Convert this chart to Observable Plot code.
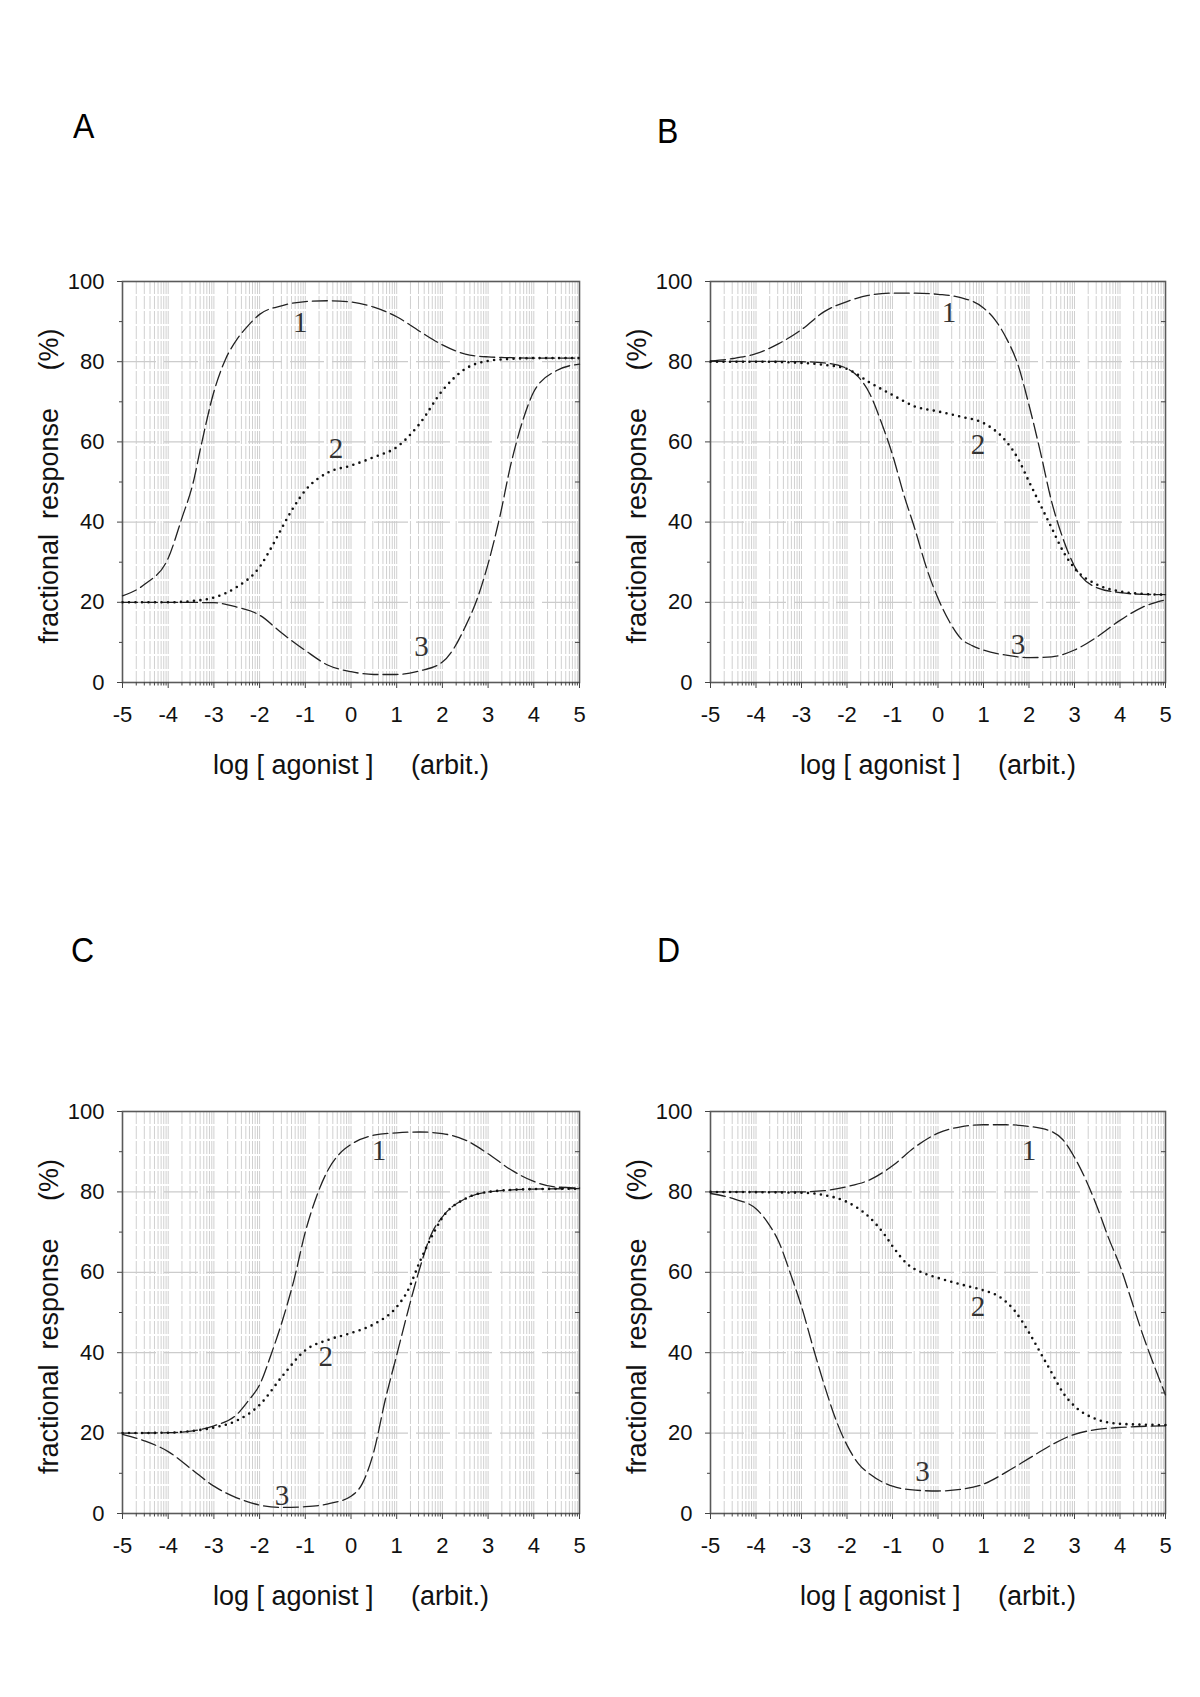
<!DOCTYPE html>
<html><head><meta charset="utf-8">
<script src="https://cdn.jsdelivr.net/npm/d3@7"></script>
<script src="https://cdn.jsdelivr.net/npm/@observablehq/plot@0.6"></script>
<style>
body{margin:0;background:#fff;}
#page{position:relative;width:1200px;height:1697px;background:#fff;overflow:hidden;}
.panel{position:absolute;}
.letter{position:absolute;font-family:"Liberation Sans",Arial,sans-serif;font-size:32px;line-height:34px;color:#000;transform:scaleY(1.12);transform-origin:0 100%;}
</style></head>
<body><div id="page"></div>
<script>
// ---- data: [log agonist, fractional response %] ----
const A1 = [[-5,21.6],[-4.5,24.6],[-4,31],[-3.7,41],[-3.45,50],[-3.3,58],[-3,72.5],[-2.75,80.5],[-2.5,85.5],[-2.25,89],[-2,91.8],[-1.5,94],[-1,95],[-0.5,95.2],[0,94.9],[0.5,93.6],[1,91.2],[1.5,87.6],[2,84.2],[2.5,81.9],[3,81.2],[3.5,81],[4,80.9],[5,80.9]];
const A2 = [[-5,20],[-4,20],[-3.5,20.3],[-3,21.2],[-2.5,23.8],[-2,28.8],[-1.75,33.5],[-1.5,38.8],[-1.25,43.8],[-1,47.9],[-0.5,52.4],[0,54.1],[0.5,56.2],[1,58.7],[1.5,64.5],[2,72.8],[2.5,78.2],[3,80.2],[3.5,80.7],[4,80.9],[5,80.9]];
const A3 = [[-5,20],[-4,20],[-3,19.9],[-2.5,18.8],[-2,16.8],[-1.5,12.2],[-1,8],[-0.5,4.3],[0,2.7],[0.5,2],[1,2],[1.5,2.9],[2,5.1],[2.25,8.5],[2.5,13.9],[2.75,20.5],[3,29.6],[3.25,41],[3.5,54.5],[3.75,65],[4,72.5],[4.5,77.8],[5,79.4]];

const B1 = [[-5,80.2],[-4.5,80.8],[-4,82],[-3.5,84.5],[-3,88],[-2.5,92.5],[-2,95],[-1.5,96.6],[-1,97.1],[-0.5,97.1],[0,96.8],[0.5,96],[1,93.4],[1.25,90.5],[1.5,85.9],[1.75,79.5],[2,69.2],[2.25,57.5],[2.5,45],[2.75,35.8],[3,29],[3.5,23.6],[4,22.4],[4.5,22],[5,21.9]];
const B2 = [[-5,80],[-4,80],[-3,79.7],[-2.5,79.2],[-2,78.2],[-1.5,74.8],[-1,71.7],[-0.5,68.8],[0,67.6],[0.5,66.3],[1,64.7],[1.5,60.1],[1.75,56],[2,50.1],[2.25,44.3],[2.5,38.5],[2.75,32.7],[3,28.5],[3.5,24.4],[4,22.7],[4.5,22.1],[5,21.9]];
const B3 = [[-5,80.1],[-4,80.1],[-3,80],[-2.5,79.7],[-2,78.3],[-1.75,76.2],[-1.5,72],[-1.25,65],[-1,56.8],[-0.75,46.8],[-0.5,38],[-0.25,28.5],[0,21],[0.25,15.2],[0.5,11],[0.75,9.2],[1,8.1],[1.5,6.8],[2,6.2],[2.5,6.4],[3,8.1],[3.5,11.4],[4,15.5],[4.5,18.8],[5,20.6]];

const C1 = [[-5,20],[-4,20.1],[-3.5,20.5],[-3,21.8],[-2.5,24.6],[-2.25,28],[-2,32],[-1.75,39.5],[-1.5,48],[-1.25,58],[-1,70],[-0.75,79],[-0.5,85.5],[-0.25,89.5],[0,91.8],[0.5,94.1],[1,94.7],[1.5,94.9],[2,94.5],[2.5,92.9],[3,89.5],[3.5,85.5],[4,82.6],[4.5,81.2],[5,81]];
const C2 = [[-5,20],[-4,20.1],[-3.5,20.5],[-3,21.4],[-2.5,23.1],[-2,27],[-1.5,34.2],[-1,40.6],[-0.5,43.2],[0,44.9],[0.5,47.1],[1,51.4],[1.25,55.6],[1.5,62.5],[1.75,68.5],[2,73.6],[2.5,78.3],[3,80],[4,80.7],[5,80.8]];
const C3 = [[-5,19.7],[-4.5,18],[-4,15.4],[-3.5,11.1],[-3,6.8],[-2.5,3.9],[-2,2.1],[-1.5,1.5],[-1,1.7],[-0.5,2.4],[0,4.3],[0.25,7.5],[0.5,15.4],[0.75,28.3],[1,39.4],[1.25,50.5],[1.5,60.8],[1.75,69.3],[2,73.8],[2.5,78.3],[3,80],[4,80.7],[5,80.8]];

const D1 = [[-5,80],[-3,80],[-2.5,80.3],[-2,81.3],[-1.5,83],[-1,86.5],[-0.5,91.2],[0,94.6],[0.5,96.2],[1,96.7],[1.5,96.7],[2,96.3],[2.5,95],[2.75,92.9],[3,88.6],[3.25,83],[3.5,76.2],[3.75,68.5],[4,61.6],[4.25,53.1],[4.5,44.5],[4.75,36.8],[5,29.5]];
const D2 = [[-5,80],[-3,79.8],[-2.5,79.2],[-2,77.5],[-1.5,73.6],[-1.17,69.3],[-1,66.5],[-0.67,62],[-0.34,59.9],[0,58.6],[0.5,57],[1,55.5],[1.34,54],[1.68,50.5],[2,45],[2.25,40],[2.5,35],[2.75,30],[3,26.7],[3.5,23.4],[4,22.3],[5,22]];
const D3 = [[-5,79.6],[-4.5,78.3],[-4,75.8],[-3.75,72.5],[-3.5,67.6],[-3.25,59.9],[-3,51.5],[-2.75,41.5],[-2.5,32],[-2.25,23.5],[-2,17],[-1.75,12.4],[-1.5,9.8],[-1,6.8],[-0.5,5.8],[0,5.6],[0.5,6],[1,7.3],[1.5,10.3],[2,13.7],[2.5,17.1],[3,19.7],[3.5,20.9],[4,21.4],[5,21.8]];

// curve number labels: [x, y, text]
const labelsA = [[-1.11,89.8,"1"],[-0.33,58.4,"2"],[1.54,8.9,"3"]];
const labelsB = [[0.24,92.1,"1"],[0.88,59.4,"2"],[1.76,9.4,"3"]];
const labelsC = [[0.61,90.3,"1"],[-0.55,39,"2"],[-1.51,4.3,"3"]];
const labelsD = [[2.0,90.3,"1"],[0.88,51.4,"2"],[-0.34,10.3,"3"]];

// ticks
const majorX = [-5,-4,-3,-2,-1,0,1,2,3,4,5];
const decades = [-5,-4,-3,-2,-1,0,1,2,3,4];
const minorFactors = [2,3,4,5,6,7,8,9];
const majorY = [0,20,40,60,80,100];
const minorY = [10,30,50,70,90];
const gridY = [20,40,60,80];
const panelLetters = ["A","B","C","D"];
const xTitle = "log [ agonist ]\u00a0\u00a0\u00a0\u00a0\u00a0(arbit.)";
const yTitle = "fractional\u00a0\u00a0response\u00a0\u00a0\u00a0\u00a0\u00a0(%)";

const minorX = decades.flatMap(d => minorFactors.map(k => d + Math.log10(k)));
const gridX = minorX.concat(majorX.slice(1, -1));

const FONT = '"Liberation Sans", Arial, sans-serif';
const toRows = arr => arr.map(([x, y]) => ({x, y}));
const hyphen = d => String(d);

function makePanel(series, labels, ml, mr, mt, mb) {
  const [s1, s2, s3] = series.map(toRows);
  const lab = labels.map(([x, y, t]) => ({x, y, t}));
  return Plot.plot({
    width: 600, height: 600,
    marginLeft: ml, marginRight: mr, marginTop: mt, marginBottom: mb,
    style: {fontFamily: FONT, background: "transparent", overflow: "visible", color: "#111"},
    x: {type: "linear", domain: [-5, 5]},
    y: {type: "linear", domain: [0, 100]},
    marks: [
      Plot.ruleX(gridX, {stroke: "#d0d0d0", strokeWidth: 1, strokeDasharray: "13,2"}),
      Plot.ruleY(gridY, {stroke: "#cccccc", strokeWidth: 1.2, strokeDasharray: "34,8"}),
      Plot.frame({stroke: "#5a5a5a", strokeWidth: 1.6}),
      Plot.line(s1, {x: "x", y: "y", curve: "monotone-x", stroke: "#222", strokeWidth: 1.3, strokeDasharray: "15,5"}),
      Plot.line(s3, {x: "x", y: "y", curve: "monotone-x", stroke: "#222", strokeWidth: 1.3, strokeDasharray: "15,5"}),
      Plot.line(s2, {x: "x", y: "y", curve: "monotone-x", stroke: "#111", strokeWidth: 2.6, strokeDasharray: "0,6.5", strokeLinecap: "round"}),
      Plot.text(lab, {x: "x", y: "y", text: "t", fontFamily: '"Liberation Serif", "Times New Roman", serif', fontSize: 29, fill: "#333", textAnchor: "middle", lineAnchor: "middle"}),
      Plot.axisX({ticks: majorX, tickFormat: hyphen, tickSize: 6, tickPadding: 18, fontSize: 22, label: null, stroke: "#444", fill: "#111"}),
      Plot.axisX({ticks: minorX, tickSize: 3.5, tickFormat: () => "", label: null, stroke: "#444"}),
      Plot.axisY({ticks: majorY, tickFormat: hyphen, tickSize: 5, tickPadding: 13, fontSize: 22, label: null, stroke: "#444", fill: "#111"}),
      Plot.axisY({ticks: minorY, tickSize: 3, tickFormat: () => "", label: null, stroke: "#444"}),
      Plot.axisY({anchor: "right", ticks: minorY, tickSize: -5, tickFormat: () => "", label: null, stroke: "#444"}),
      Plot.text([xTitle], {frameAnchor: "bottom", dy: 83, fontSize: 27, fontFamily: FONT, fill: "#111", lineAnchor: "middle", textAnchor: "middle"}),
      Plot.text([yTitle], {frameAnchor: "left", dx: -73, dy: 4, rotate: -90, fontSize: 27, fontFamily: FONT, fill: "#111", lineAnchor: "middle", textAnchor: "middle"})
    ]
  });
}

const page = document.getElementById("page");
const panels = [
  {series: [A1, A2, A3], labels: labelsA, left: 0,   top: 200,  ml: 122, mr: 21, mt: 81, mb: 118, lx: 73,  ly: 111},
  {series: [B1, B2, B3], labels: labelsB, left: 600, top: 200,  ml: 110, mr: 35, mt: 81, mb: 118, lx: 657, ly: 116},
  {series: [C1, C2, C3], labels: labelsC, left: 0,   top: 1030, ml: 122, mr: 21, mt: 81, mb: 117, lx: 71,  ly: 935},
  {series: [D1, D2, D3], labels: labelsD, left: 600, top: 1030, ml: 110, mr: 35, mt: 81, mb: 117, lx: 657, ly: 935}
];
panels.forEach((p, i) => {
  const div = document.createElement("div");
  div.className = "panel";
  div.style.left = p.left + "px";
  div.style.top = p.top + "px";
  div.appendChild(makePanel(p.series, p.labels, p.ml, p.mr, p.mt, p.mb));
  page.appendChild(div);
  const L = document.createElement("div");
  L.className = "letter";
  L.style.left = p.lx + "px";
  L.style.top = p.ly + "px";
  L.textContent = panelLetters[i];
  page.appendChild(L);
});
</script>
</body></html>
